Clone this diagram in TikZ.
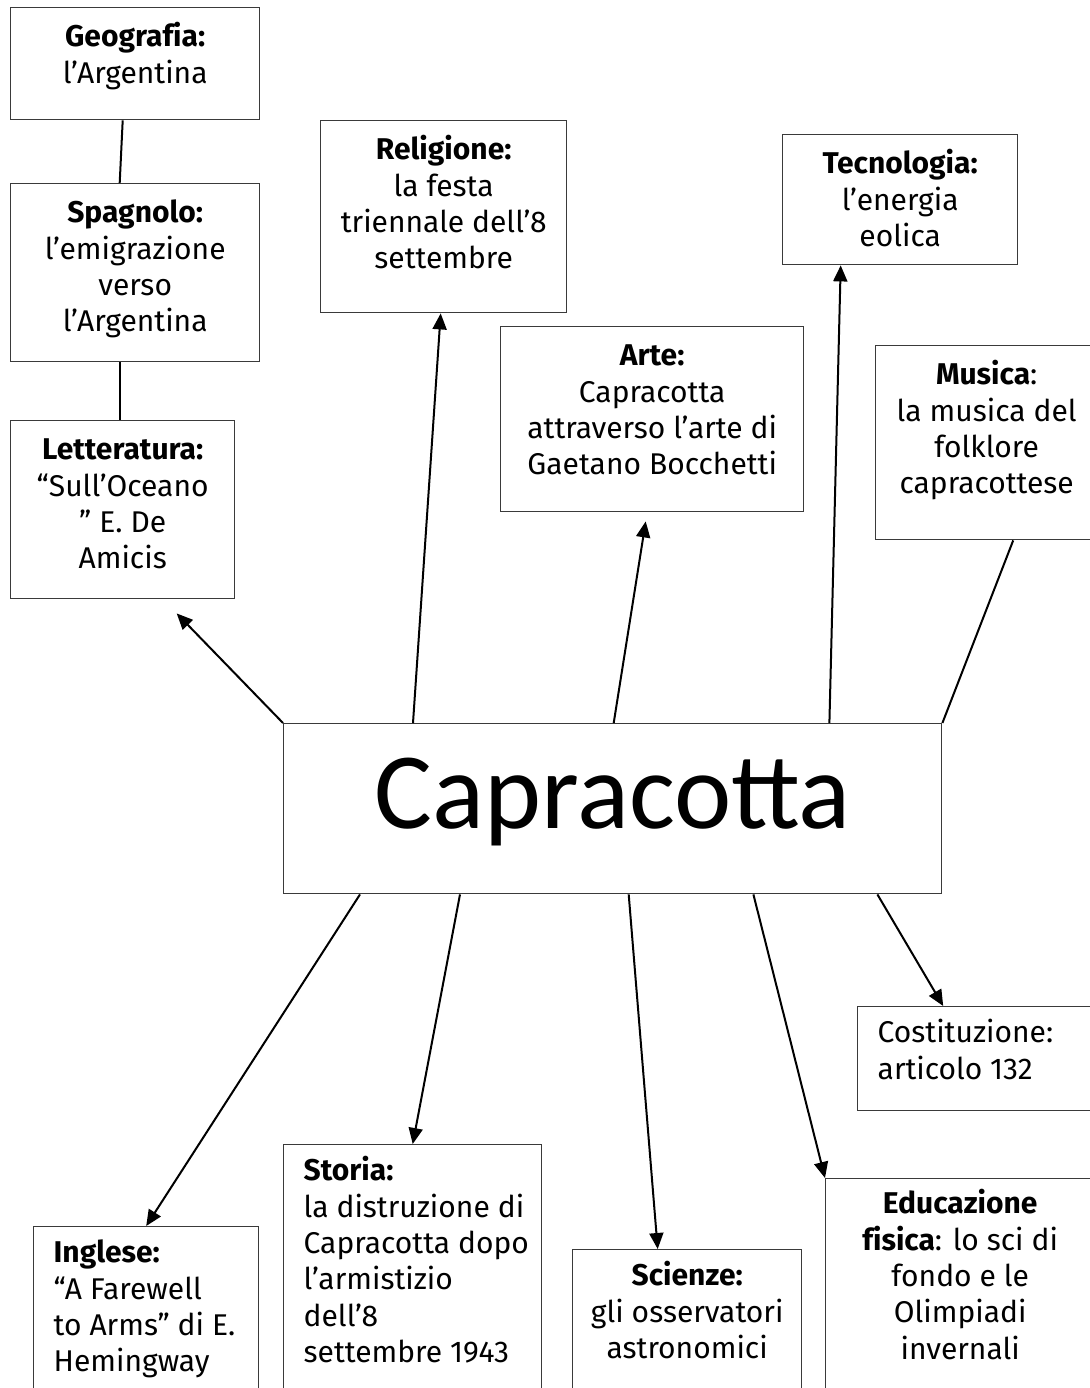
\documentclass[tikz,border=0pt]{standalone}
\usepackage{fontspec}
\setmainfont{Fira Sans}[Ligatures=CommonOff]
\newfontfamily\titlefont{Carlito}
\usetikzlibrary{arrows.meta}
\definecolor{cline}{HTML}{3A3A3A}
% box contents: [first baseline below top], width, height, text
\newcommand{\boxtext}[4][19.5pt]{\parbox[t][#3][t]{#2}{\centering\rule{0pt}{#1}#4}}
\newcommand{\boxtextl}[4][18pt]{\parbox[t][#3][t]{#2}{\raggedright\leftskip=10pt\rule{0pt}{#1}#4}}
\tikzset{
  every picture/.style={line width=1pt},
  topic/.style={draw=cline, line width=0.7pt, inner sep=0pt, anchor=north west, font=\fontsize{15}{18.2}\selectfont},
  link/.style={draw=black, line width=1pt},
  arrow/.style={-{Triangle[length=8pt,width=7pt]}, draw=black, line width=1pt},
}
\begin{document}
\begin{tikzpicture}[x=1pt, y=-1pt]
  \useasboundingbox (0,0) rectangle (544.5,694);
  % upper branch
  \node[topic] (geo) at (5,3.5) {\boxtext{124.5pt}{56pt}{\textbf{Geografia:}\\l’Argentina}};
  \node[topic] (spa) at (5,91.5) {\boxtext{124.5pt}{89pt}{\textbf{Spagnolo:}\\l’emigrazione\\verso\\l’Argentina}};
  \node[topic] (lett) at (5,210) {\boxtext{112pt}{89pt}{\textbf{Letteratura:}\\“Sull’Oceano\\” E. De\\Amicis}};
  \node[topic] (rel) at (160,60) {\boxtext{123pt}{96pt}{\textbf{Religione:}\\la festa\\triennale dell’8\\settembre}};
  \node[topic] (tec) at (391,67) {\boxtext{117.5pt}{65pt}{\textbf{Tecnologia:}\\l’energia\\eolica}};
  \node[topic] (arte) at (250,163) {\boxtext{151.5pt}{92.5pt}{\textbf{Arte:}\\Capracotta\\attraverso l’arte di\\Gaetano Bocchetti}};
  \node[topic] (mus) at (437.5,172.5) {\boxtext{111pt}{97pt}{\textbf{Musica}:\\la musica del\\folklore\\capracottese}};
  % centre
  \node[topic, minimum width=329pt, minimum height=85pt, text height=36pt, text depth=16pt,
        font=\titlefont\fontsize{54.3}{60}\selectfont] (cap) at (141.5,361.5) {Capracotta};
  % lower branch
  \node[topic] (cost) at (428.5,503) {\boxtextl{120pt}{52pt}{Costituzione:\\articolo 132}};
  \node[topic] (edu) at (412.5,589) {\boxtext[17.5pt]{134.5pt}{120pt}{\textbf{Educazione}\\\textbf{fisica}: lo sci di\\fondo e le\\Olimpiadi\\invernali}};
  \node[topic] (sci) at (286,624.5) {\boxtext[18pt]{114.5pt}{80pt}{\textbf{Scienze:}\\gli osservatori\\astronomici}};
  \node[topic] (sto) at (141.5,572) {\boxtextl{129pt}{130pt}{\textbf{Storia:}\\la distruzione di\\Capracotta dopo\\l’armistizio\\dell’8\\settembre 1943}};
  \node[topic] (ing) at (16.5,613) {\boxtextl{112.5pt}{90pt}{\textbf{Inglese:}\\“A Farewell\\to Arms” di E.\\Hemingway}};

  \draw[link] ([xshift=-6.25pt]geo.south) -- ([xshift=-7.75pt]spa.north);
  \draw[link] ([xshift=-7.75pt]spa.south) -- ([xshift=-1.5pt]lett.north);
  \draw[arrow] (cap.north west) -- ([xshift=27pt,yshift=-7pt]lett.south);
  \draw[arrow] ([xshift=65pt]cap.north west) -- ([xshift=-1.5pt]rel.south);
  \draw[arrow] ([xshift=0.5pt]cap.north) -- ([xshift=-3.25pt,yshift=-4.5pt]arte.south);
  \draw[arrow] ([xshift=-56.5pt]cap.north east) -- ([xshift=-29.75pt]tec.south);
  \draw[link] (cap.north east) -- ([xshift=13.25pt]mus.south);
  \draw[arrow] ([xshift=38.5pt]cap.south west) -- (ing.north);
  \draw[arrow] ([xshift=88.5pt]cap.south west) -- (sto.north);
  \draw[arrow] ([xshift=8pt]cap.south) -- ([xshift=-14.75pt]sci.north);
  \draw[arrow] ([xshift=-94.5pt]cap.south east) -- (edu.north west);
  \draw[arrow] ([xshift=-32.5pt]cap.south east) -- ([xshift=-17.25pt]cost.north);
\end{tikzpicture}
\end{document}
